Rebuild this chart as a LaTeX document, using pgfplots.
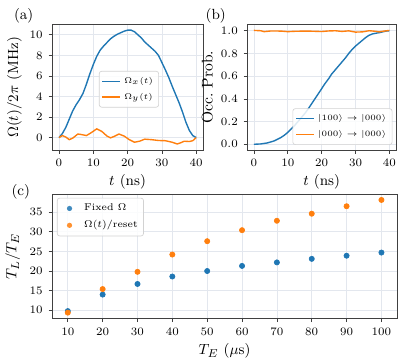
\documentclass[border=0pt]{standalone}
\usepackage{pgfplots}
\pgfplotsset{compat=1.18}
\usepackage{amsmath}

\definecolor{mplblue}{HTML}{1F77B4}
\definecolor{mplorange}{HTML}{FF7F0E}
\definecolor{gridc}{HTML}{E3E7EE}

\pgfplotsset{
  panel/.style={
    scale only axis,
    axis line style={black!75, line width=0.5pt},
    tick align=outside,
    tick style={black!75, line width=0.4pt},
    major tick length=2.2pt,
    grid=major,
    major grid style={gridc, line width=0.4pt},
    tick label style={font=\fontsize{7}{8}\selectfont},
    label style={font=\fontsize{9.5}{11}\selectfont},
    xtick pos=bottom, ytick pos=left,
    legend style={font=\fontsize{5.5}{6.5}\selectfont, draw=gray!35,
                  rounded corners=1.5pt, fill=white, fill opacity=0.85,
                  text opacity=1, row sep=0.5pt, inner sep=1.5pt},
    legend cell align=left,
  },
  crv/.style={line width=0.85pt, no marks},
  lineleg/.style={legend image code/.code={%
    \draw[##1, line width=0.9pt] (0pt,0pt) -- (11pt,0pt);}},
}

\begin{document}
\begin{tikzpicture}
\path (0,0) rectangle (241.8pt,220.2pt);

% (a)
\begin{axis}[panel, lineleg,
  at={(27pt,128.4pt)}, anchor=south west,
  width=92.4pt, height=76.8pt,
  xmin=-2, xmax=42, ymin=-1.2, ymax=11.0,
  xtick={0,10,20,30,40}, ytick={0,2,4,6,8,10},
  xlabel={$t\ (\mathrm{ns})$},
  ylabel={$\Omega(t)/2\pi\ (\mathrm{MHz})$},
  xlabel style={yshift=2pt}, ylabel style={yshift=-2pt},
  legend style={at={(0.31,0.63)}, anchor=north west},
]
\addplot[crv, mplblue] coordinates {
(0,0) (1,0.4) (2,1.0) (3,1.8) (4,2.6) (5,3.2) (6,3.7) (7,4.3) (8,5.2) (9,6.2)
(10,7.1) (11,7.9) (12,8.5) (13,8.9) (14,9.25) (15,9.6) (16,9.85) (17,10.05)
(18,10.2) (19,10.35) (20,10.45) (21,10.45) (22,10.3) (23,10.0) (24,9.7)
(25,9.3) (26,9.0) (27,8.7) (28,8.4) (29,8.0) (30,7.3) (31,6.6) (32,5.85)
(33,5.0) (34,4.2) (35,3.4) (36,2.5) (37,1.5) (38,0.7) (39,0.2) (40,0)
};
\addlegendentry{$\Omega_x(t)$}
\addplot[crv, mplorange] coordinates {
(0,0) (1,0.2) (2,0.05) (3,-0.2) (4,-0.05) (5.5,0.35) (6.5,0.3) (8,0.2)
(9.5,0.5) (11,0.85) (12.5,0.6) (14,0.15) (15,-0.02) (16,0.1) (17.5,0.35)
(19,0.15) (20.5,-0.2) (22,-0.45) (23.5,-0.35) (25,-0.15) (27,-0.2) (29,-0.28)
(31,-0.3) (33,-0.45) (34.5,-0.62) (35.5,-0.5) (36.5,-0.35) (38,-0.38)
(39,-0.3) (40,0)
};
\addlegendentry{$\Omega_y(t)$}
\end{axis}

% (b)
\begin{axis}[panel, lineleg,
  at={(146.4pt,128.4pt)}, anchor=south west,
  width=91.2pt, height=76.8pt,
  xmin=-2, xmax=42, ymin=-0.05, ymax=1.055,
  xtick={0,10,20,30,40}, ytick={0,0.2,0.4,0.6,0.8,1.0},
  yticklabel style={/pgf/number format/.cd, fixed, fixed zerofill, precision=1},
  xlabel={$t\ (\mathrm{ns})$},
  ylabel={Occ.\ Prob.},
  xlabel style={yshift=2pt}, ylabel style={yshift=-2pt},
  legend style={at={(0.975,0.04)}, anchor=south east,
                font=\fontsize{5}{6}\selectfont},
]
\addplot[crv, mplblue] coordinates {
(0,0) (2,0.003) (4,0.012) (6,0.03) (8,0.06) (9,0.08) (10,0.105) (11,0.135)
(12,0.165) (13,0.2) (14,0.235) (15,0.27) (16,0.31) (17,0.355) (18,0.4)
(19,0.445) (20,0.49) (21,0.535) (22,0.575) (23,0.62) (24,0.655) (25,0.69)
(26,0.725) (27,0.76) (28,0.8) (29,0.835) (30,0.865) (31,0.89) (32,0.915)
(33,0.94) (34,0.96) (35,0.972) (36,0.978) (37,0.983) (38,0.99) (39,0.997) (40,1.0)
};
\addlegendentry{$|100\rangle \rightarrow |000\rangle$}
\addplot[crv, mplorange] coordinates {
(0,1.003) (2,1.0) (3,0.992) (5,0.998) (8,0.997) (10,0.992) (12,0.995)
(15,0.997) (17,0.996) (20,0.993) (22,0.998) (24,1.0) (26,0.994) (28,0.999)
(30,0.988) (32,0.99) (34,1.0) (36,0.995) (37,0.99) (38,0.995) (40,1.003)
};
\addlegendentry{$|000\rangle \rightarrow |000\rangle$}
\end{axis}

% (c)
\begin{axis}[panel,
  at={(27pt,25.2pt)}, anchor=south west,
  width=211.2pt, height=76.2pt,
  xmin=5.5, xmax=104.5, ymin=7.9, ymax=39.6,
  xtick={10,20,...,100}, ytick={10,15,20,25,30,35},
  xlabel={$T_E\ (\mu\mathrm{s})$},
  ylabel={$T_L/T_E$},
  xlabel style={yshift=2pt}, ylabel style={yshift=-1pt},
  legend style={at={(0.014,0.97)}, anchor=north west,
                font=\fontsize{6}{7}\selectfont},
  legend image code/.code={\path[draw=none, fill=none] (0pt,0pt) -- (13pt,0pt);
                           \fill[#1, draw=none] (6pt,0pt) circle (1.6pt);},
]
\addplot[only marks, mark=*, mark size=1.6pt, color=mplblue] coordinates {
(10,9.8) (20,14.0) (30,16.7) (40,18.6) (50,20.0) (60,21.3) (70,22.2)
(80,23.1) (90,23.9) (100,24.7)
};
\addlegendentry{Fixed $\Omega$}
\addplot[only marks, mark=*, mark size=1.6pt, color=mplorange] coordinates {
(10,9.4) (20,15.4) (30,19.8) (40,24.2) (50,27.6) (60,30.4) (70,32.8)
(80,34.6) (90,36.5) (100,38.1)
};
\addlegendentry{$\Omega(t)$/reset}
\end{axis}

\node[font=\fontsize{9}{10}\selectfont] at (9.6pt,210.6pt) {(a)};
\node[font=\fontsize{9}{10}\selectfont] at (127.2pt,210.6pt) {(b)};
\node[font=\fontsize{9}{10}\selectfont] at (7.8pt,102.6pt) {(c)};
\end{tikzpicture}
\end{document}
